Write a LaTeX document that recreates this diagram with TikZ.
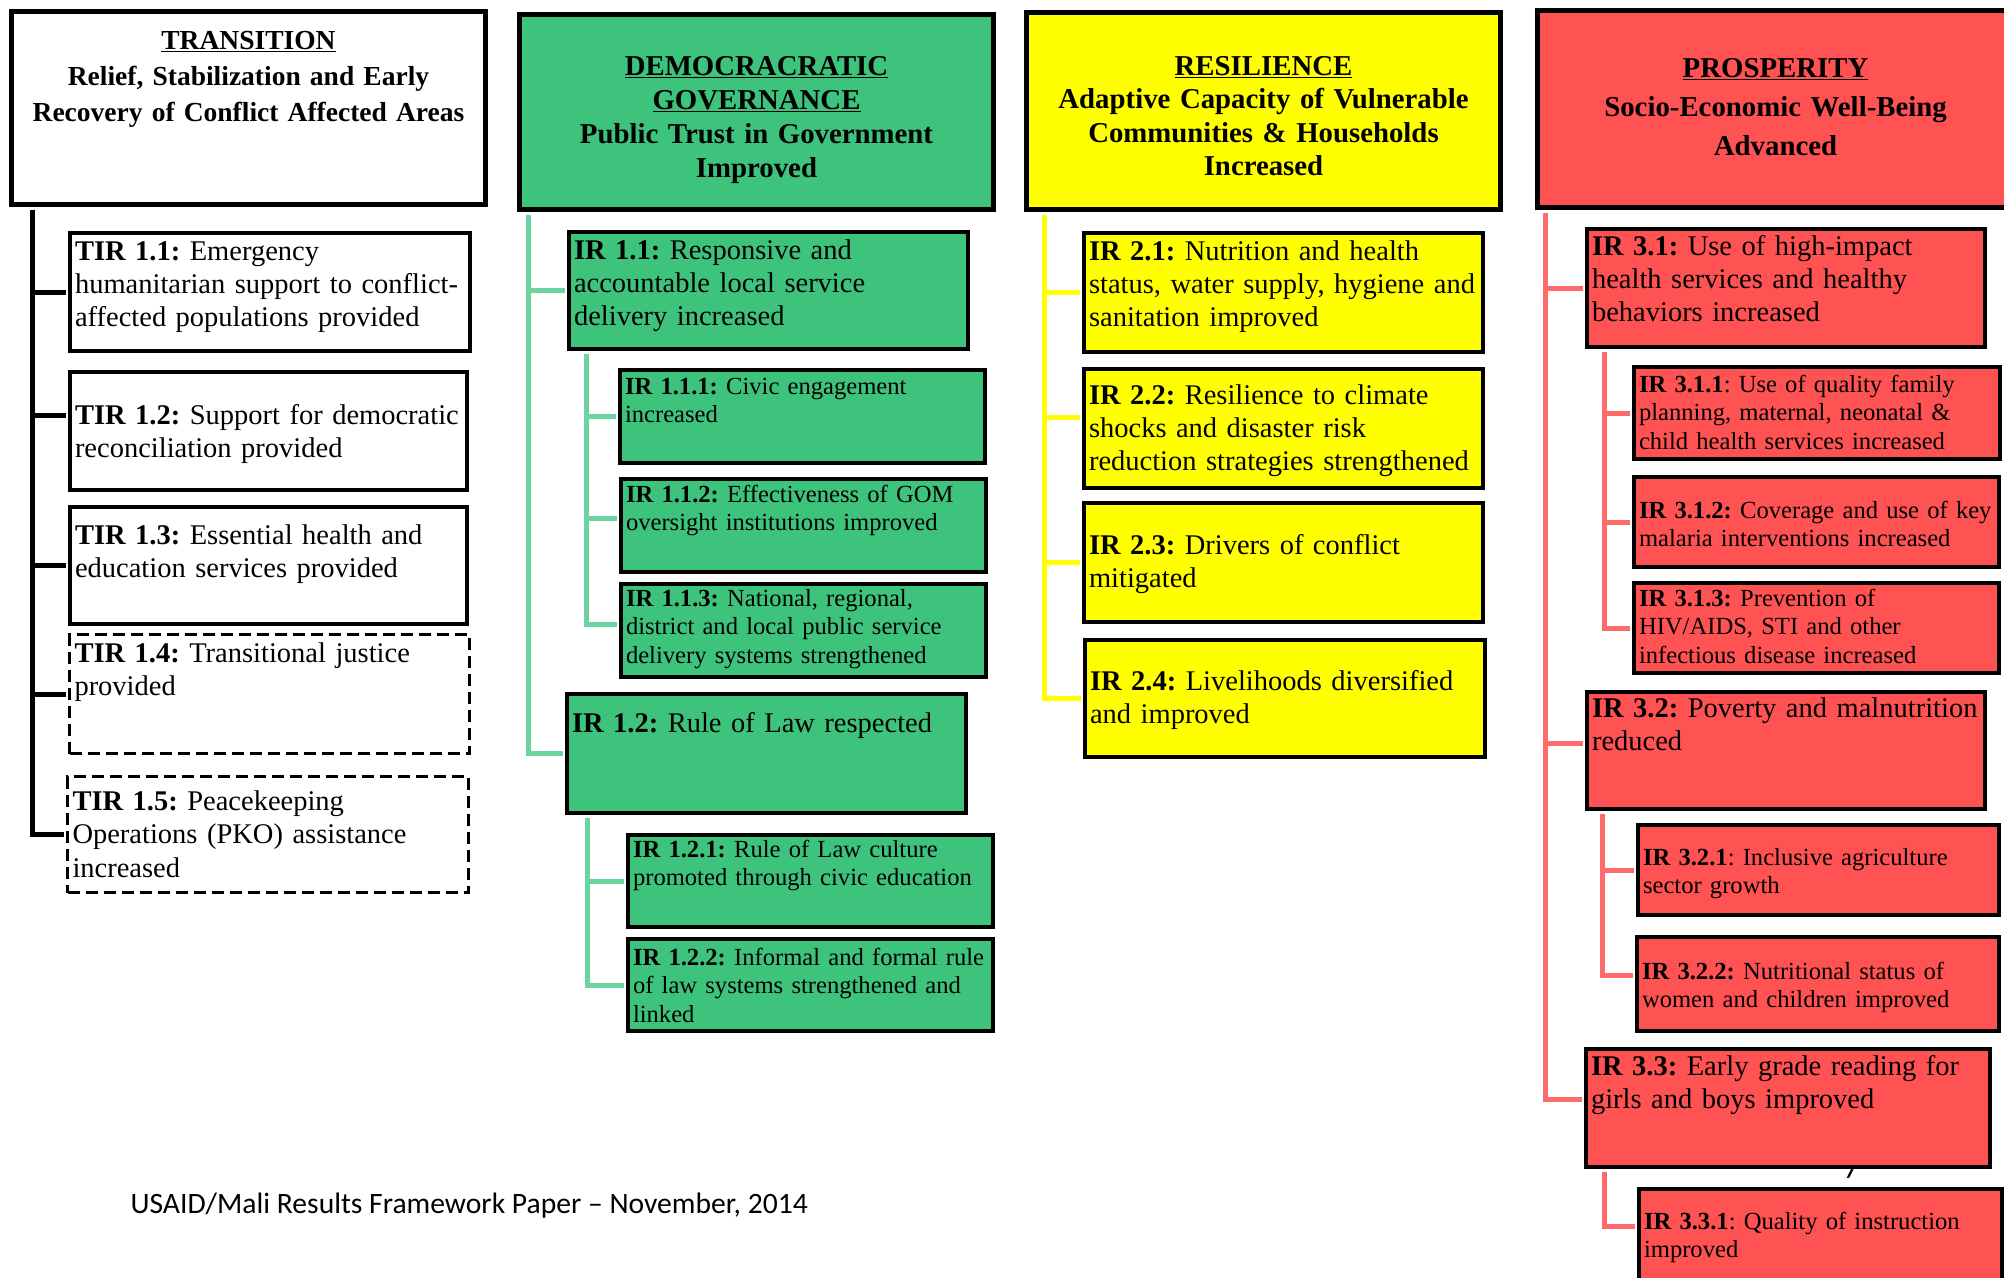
\documentclass[tikz,border=0pt]{standalone}
\usepackage{fontspec}
\setmainfont{Liberation Serif}
\newfontfamily\footfont{Carlito}
\definecolor{govgreen}{HTML}{3EC37C}
\definecolor{govline}{HTML}{6CD49E}
\definecolor{resyellow}{HTML}{FFFF00}
\definecolor{prosred}{HTML}{FF5252}
\definecolor{prosline}{HTML}{FF6B6B}
\frenchspacing
\hyphenpenalty=10000
\exhyphenpenalty=10000
\begin{document}
\begin{tikzpicture}[x=1pt, y=-1pt,
    box/.style={draw, line width=4pt, anchor=north west, inner xsep=0pt, inner ysep=0pt, align=left, execute at begin node={\leftskip=5pt}, font=\fontsize{28.5}{33.3}\selectfont},
    subbox/.style={box, font=\fontsize{24.6}{28.5}\selectfont},
    head/.style={draw, line width=5pt, anchor=north west, inner xsep=5pt, inner ysep=0pt, align=center},
    dbox/.style={box, line width=3pt, dash pattern=on 12pt off 6pt},
    tline/.style={line width=5pt, shorten <=2.5pt, shorten >=2pt}]
  \useasboundingbox (0,0) rectangle (2004,1277);
  \node[anchor=base west, font=\footfont\fontsize{29.6}{33}\selectfont] (pgnum) at (1840,1178) {7};
  \node[anchor=base west, font=\footfont\fontsize{29.6}{33}\selectfont] (foot) at (127,1213) {USAID/Mali Results Framework Paper – November, 2014};

  \node[head, text width=464pt, text height=38pt, text depth=155pt, font=\bfseries\fontsize{27.5}{36}\selectfont] (trans) at (9,9) {\underline{TRANSITION}\\Relief, Stabilization and Early\\Recovery of Conflict Affected Areas};
  \node[box, text width=400pt, text height=27pt, text depth=91pt] (tir11) at (68,231) {\textbf{TIR 1.1:} Emergency\\humanitarian support to conflict-\\affected populations provided};
  \node[box, text width=397pt, text height=52pt, text depth=66pt] (tir12) at (68,370) {\textbf{TIR 1.2:} Support for democratic\\reconciliation provided};
  \node[box, text width=397pt, text height=37pt, text depth=80pt] (tir13) at (68,505) {\textbf{TIR 1.3:} Essential health and\\education services provided};
  \node[dbox, text width=400pt, text height=28pt, text depth=91pt] (tir14) at (68,633) {\textbf{TIR 1.4:} Transitional justice\\provided};
  \node[dbox, text width=401pt, text height=34pt, text depth=82pt] (tir15) at (66,775) {\textbf{TIR 1.5:} Peacekeeping\\Operations (PKO) assistance\\increased};

  \node[head, fill=govgreen, text width=464pt, text height=61pt, text depth=134pt, font=\bfseries\fontsize{28.8}{34}\selectfont] (gov) at (517,12) {\underline{DEMOCRACRATIC}\\\underline{GOVERNANCE}\\Public Trust in Government\\Improved};
  \node[box, fill=govgreen, text width=399pt, text height=27pt, text depth=90pt] (ir11) at (567,230) {\textbf{IR 1.1:} Responsive and\\accountable local service\\delivery increased};
  \node[subbox, fill=govgreen, text width=365pt, text height=24pt, text depth=69pt] (ir111) at (618,368) {\textbf{IR 1.1.1:} Civic engagement\\increased};
  \node[subbox, fill=govgreen, text width=365pt, text height=23pt, text depth=70pt] (ir112) at (619,477) {\textbf{IR 1.1.2:} Effectiveness of GOM\\oversight institutions improved};
  \node[subbox, fill=govgreen, text width=365pt, text height=22pt, text depth=71pt] (ir113) at (619,582) {\textbf{IR 1.1.3:} National, regional,\\district and local public service\\delivery systems strengthened};
  \node[box, fill=govgreen, text width=399pt, text height=38pt, text depth=81pt] (ir12) at (565,692) {\textbf{IR 1.2:} Rule of Law respected};
  \node[subbox, fill=govgreen, text width=365pt, text height=22pt, text depth=70pt] (ir121) at (626,833) {\textbf{IR 1.2.1:} Rule of Law culture\\promoted through civic education};
  \node[subbox, fill=govgreen, text width=365pt, text height=26pt, text depth=66pt] (ir122) at (626,937) {\textbf{IR 1.2.2:} Informal and formal rule\\of law systems strengthened and\\linked};

  \node[head, fill=resyellow, text width=464pt, text height=63pt, text depth=134pt, font=\bfseries\fontsize{28.8}{33.3}\selectfont] (res) at (1024,10) {\underline{RESILIENCE}\\Adaptive Capacity of Vulnerable\\Communities \& Households\\Increased};
  \node[box, fill=resyellow, text width=399pt, text height=27pt, text depth=92pt] (ir21) at (1082,231) {\textbf{IR 2.1:} Nutrition and health\\status, water supply, hygiene and\\sanitation improved};
  \node[box, fill=resyellow, text width=399pt, text height=35pt, text depth=84pt] (ir22) at (1082,367) {\textbf{IR 2.2:} Resilience to climate\\shocks and disaster risk\\reduction strategies strengthened};
  \node[box, fill=resyellow, text width=399pt, text height=51pt, text depth=68pt] (ir23) at (1082,501) {\textbf{IR 2.3:} Drivers of conflict\\mitigated};
  \node[box, fill=resyellow, text width=400pt, text height=50pt, text depth=67pt] (ir24) at (1083,638) {\textbf{IR 2.4:} Livelihoods diversified\\and improved};

  \node[head, fill=prosred, text width=466pt, text height=67pt, text depth=130pt, font=\bfseries\fontsize{28.8}{39}\selectfont] (pros) at (1535,8) {\underline{PROSPERITY}\\Socio-Economic Well-Being\\Advanced};
  \node[box, fill=prosred, text width=398pt, text height=26pt, text depth=92pt] (ir31) at (1585,227) {\textbf{IR 3.1:} Use of high-impact\\health services and healthy\\behaviors increased};
  \node[subbox, fill=prosred, text width=366pt, text height=25pt, text depth=67pt] (ir311) at (1632,365) {\textbf{IR 3.1.1}: Use of quality family\\planning, maternal, neonatal \&\\child health services increased};
  \node[subbox, fill=prosred, text width=365pt, text height=41pt, text depth=49pt] (ir312) at (1632,475) {\textbf{IR 3.1.2:} Coverage and use of key\\malaria interventions increased};
  \node[subbox, fill=prosred, text width=365pt, text height=23pt, text depth=67pt] (ir313) at (1632,581) {\textbf{IR 3.1.3:} Prevention of\\HIV/AIDS, STI and other\\infectious disease increased};
  \node[box, fill=prosred, text width=398pt, text height=25pt, text depth=92pt] (ir32) at (1585,690) {\textbf{IR 3.2:} Poverty and malnutrition\\reduced};
  \node[subbox, fill=prosred, text width=361pt, text height=40pt, text depth=50pt] (ir321) at (1636,823) {\textbf{IR 3.2.1}: Inclusive agriculture\\sector growth};
  \node[subbox, fill=prosred, text width=362pt, text height=42pt, text depth=52pt] (ir322) at (1635,935) {\textbf{IR 3.2.2:} Nutritional status of\\women and children improved};
  \node[box, fill=prosred, text width=404pt, text height=26pt, text depth=92pt] (ir33) at (1584,1047) {\textbf{IR 3.3:} Early grade reading for\\girls and boys improved};
  \node[subbox, fill=prosred, text width=363pt, text height=40pt, text depth=80pt] (ir331) at (1637,1187) {\textbf{IR 3.3.1}: Quality of instruction\\improved};

  \draw[tline] ([xshift=23pt]trans.south west) |- (tir11.west);
  \draw[tline] ([xshift=23pt]trans.south west) |- ([yshift=16pt]tir12.west);
  \draw[tline] ([xshift=23pt]trans.south west) |- (tir13.west);
  \draw[tline] ([xshift=23pt]trans.south west) |- (tir14.west);
  \draw[tline] ([xshift=23pt]trans.south west) |- (tir15.west);

  \draw[tline, govline] ([xshift=11pt]gov.south west) |- (ir11.west);
  \draw[tline, govline] ([xshift=11pt]gov.south west) |- (ir12.west);
  \draw[tline, govline] ([xshift=19pt]ir11.south west) |- (ir111.west);
  \draw[tline, govline] ([xshift=19pt]ir11.south west) |- ([yshift=7pt]ir112.west);
  \draw[tline, govline] ([xshift=19pt]ir11.south west) |- ([yshift=6pt]ir113.west);
  \draw[tline, govline] ([xshift=22pt]ir12.south west) |- (ir121.west);
  \draw[tline, govline] ([xshift=22pt]ir12.south west) |- (ir122.west);

  \draw[tline, resyellow] ([xshift=20pt]res.south west) |- (ir21.west);
  \draw[tline, resyellow] ([xshift=20pt]res.south west) |- ([yshift=11pt]ir22.west);
  \draw[tline, resyellow] ([xshift=20pt]res.south west) |- (ir23.west);
  \draw[tline, resyellow] ([xshift=20pt]res.south west) |- (ir24.west);

  \draw[tline, prosline] ([xshift=10pt]pros.south west) |- (ir31.west);
  \draw[tline, prosline] ([xshift=10pt]pros.south west) |- ([yshift=7pt]ir32.west);
  \draw[tline, prosline] ([xshift=10pt]pros.south west) |- ([yshift=9pt]ir33.west);
  \draw[tline, prosline] ([xshift=19pt]ir31.south west) |- (ir311.west);
  \draw[tline, prosline] ([xshift=19pt]ir31.south west) |- (ir312.west);
  \draw[tline, prosline] ([xshift=19pt]ir31.south west) |- (ir313.west);
  \draw[tline, prosline] ([xshift=17pt]ir32.south west) |- (ir321.west);
  \draw[tline, prosline] ([xshift=17pt]ir32.south west) |- ([yshift=9pt]ir322.west);
  \draw[tline, prosline] ([xshift=20pt]ir33.south west) |- ([yshift=23pt]ir331.west);
\end{tikzpicture}
\end{document}
